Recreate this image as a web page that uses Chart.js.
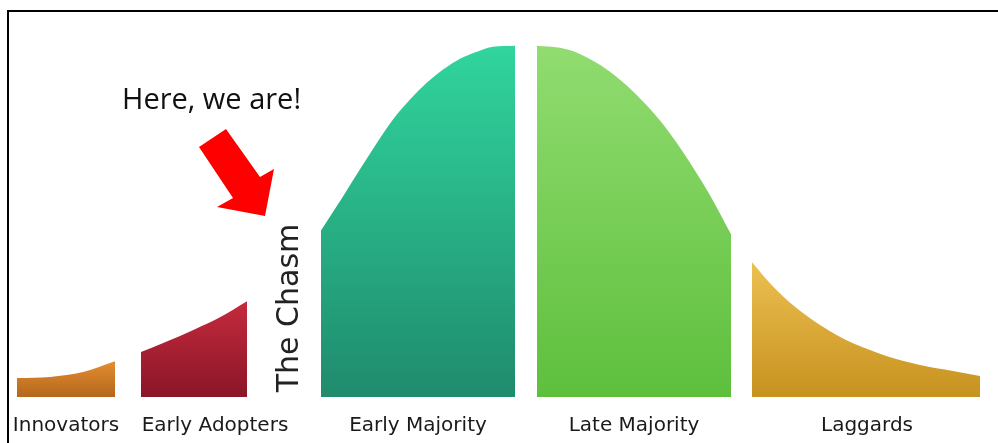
<!DOCTYPE html>
<html lang="en">
<head>
    <meta charset="UTF-8">
    <title>The Chasm</title>
    <style>
        html, body {
            margin: 0;
            padding: 0;
            background: #fff;
            overflow: hidden;
        }
        .wrap {
            position: relative;
            width: 998px;
            height: 443px;
            overflow: hidden;
        }
        .frame {
            position: absolute;
            left: 7px;
            top: 10px;
            right: -10px;
            bottom: -10px;
            border-top: 2px solid #000;
            border-left: 2px solid #000;
            pointer-events: none;
        }
    </style>
</head>
<body>
    <div class="wrap">
        <div class="frame"></div>
        <canvas id="myChart"></canvas>
    </div>

    <script src="https://cdn.jsdelivr.net/npm/chart.js"></script>
    <script>
        // adopter groups, in the order they appear under the curve
        var categories = ['Innovators', 'Early Adopters', 'Early Majority', 'Late Majority', 'Laggards'];
        // where each group name sits on the x axis
        var labelAt = [66, 215, 418, 634, 867];

        // curve outline of each group (x position, height with peak = 100)
        var innovatorsX = [17, 50, 83, 115];
        var innovatorsH = [5.4, 5.7, 7.1, 10.2];

        var earlyAdoptersX = [141, 165, 195, 220, 247];
        var earlyAdoptersH = [12.8, 15.6, 19.3, 22.7, 27.3];

        var earlyMajorityX = [321, 343, 360, 377, 393, 410, 427, 443, 460, 477, 493, 515];
        var earlyMajorityH = [47.4, 57.1, 64.8, 72.4, 79.0, 84.7, 89.5, 93.2, 96.3, 98.3, 99.7, 100];

        var lateMajorityX = [537, 560, 577, 593, 610, 627, 643, 660, 677, 693, 710, 731];
        var lateMajorityH = [100, 99.4, 98.0, 95.7, 92.6, 88.6, 84.1, 78.7, 72.2, 65.3, 57.4, 46.3];

        var laggardsX = [752, 770, 787, 803, 820, 837, 853, 870, 887, 920, 953, 980];
        var laggardsH = [38.4, 32.4, 27.6, 23.9, 20.5, 17.6, 15.3, 13.4, 11.6, 9.1, 7.4, 6.0];

        var gradients = [
            ['#e48e31', '#b4661c'],
            ['#c52a3d', '#8a1628'],
            ['#31d59d', '#1f8b6d'],
            ['#91dc70', '#5ebf3d'],
            ['#ecc052', '#c7921f']
        ];

        function toPoints(xs, hs) {
            return xs.map(function (x, i) { return { x: x, y: hs[i] }; });
        }

        function makeDataset(xs, hs, colors) {
            return {
                data: toPoints(xs, hs),
                fill: 'origin',
                borderWidth: 0,
                borderColor: 'rgba(0,0,0,0)',
                pointRadius: 0,
                cubicInterpolationMode: 'monotone',
                backgroundColor: function (context) {
                    var chart = context.chart;
                    if (!chart.chartArea) return colors[0];
                    var y = chart.scales.y;
                    var top = y.getPixelForValue(Math.max.apply(null, hs));
                    var g = chart.ctx.createLinearGradient(0, top, 0, y.getPixelForValue(0));
                    g.addColorStop(0, colors[0]);
                    g.addColorStop(1, colors[1]);
                    return g;
                }
            };
        }

        var notes = {
            id: 'notes',
            afterDraw: function (chart) {
                var ctx = chart.ctx;
                ctx.save();

                ctx.fillStyle = '#111';
                ctx.font = '29px "Open Sans"';
                ctx.textAlign = 'left';
                ctx.textBaseline = 'alphabetic';
                ctx.fillText('Here, we are!', 122, 109);

                // red arrow pointing at the chasm
                ctx.fillStyle = '#ff0000';
                ctx.beginPath();
                ctx.moveTo(199, 147);
                ctx.lineTo(226, 129);
                ctx.lineTo(260, 177);
                ctx.lineTo(274, 169);
                ctx.lineTo(265, 216);
                ctx.lineTo(217, 207);
                ctx.lineTo(233, 198);
                ctx.closePath();
                ctx.fill();

                // vertical "The Chasm" in the gap
                ctx.translate(298, 308);
                ctx.rotate(-Math.PI / 2);
                ctx.fillStyle = '#222';
                ctx.font = '30px "DejaVu Sans"';
                ctx.textAlign = 'center';
                ctx.fillText('The Chasm', 0, 0);

                ctx.restore();
            }
        };

        var ctx = document.getElementById('myChart').getContext('2d');

        new Chart(ctx, {
            type: 'line',
            data: {
                datasets: [
                    makeDataset(innovatorsX, innovatorsH, gradients[0]),
                    makeDataset(earlyAdoptersX, earlyAdoptersH, gradients[1]),
                    makeDataset(earlyMajorityX, earlyMajorityH, gradients[2]),
                    makeDataset(lateMajorityX, lateMajorityH, gradients[3]),
                    makeDataset(laggardsX, laggardsH, gradients[4])
                ]
            },
            options: {
                responsive: true,
                maintainAspectRatio: false,
                animation: false,
                layout: { padding: 0 },
                plugins: {
                    legend: { display: false },
                    tooltip: { enabled: false }
                },
                scales: {
                    x: {
                        type: 'linear',
                        min: 0,
                        max: 998,
                        grid: { display: false, drawTicks: false },
                        border: { display: false },
                        afterBuildTicks: function (scale) {
                            scale.ticks = labelAt.map(function (v) { return { value: v }; });
                        },
                        ticks: {
                            autoSkip: false,
                            maxRotation: 0,
                            padding: 5,
                            color: '#1a1a1a',
                            font: { family: 'DejaVu Sans', size: 20 },
                            callback: function (value, index) { return categories[index]; }
                        }
                    },
                    y: {
                        display: false,
                        min: -3.4,
                        max: 113
                    }
                }
            },
            plugins: [notes]
        });
    </script>
</body>
</html>
